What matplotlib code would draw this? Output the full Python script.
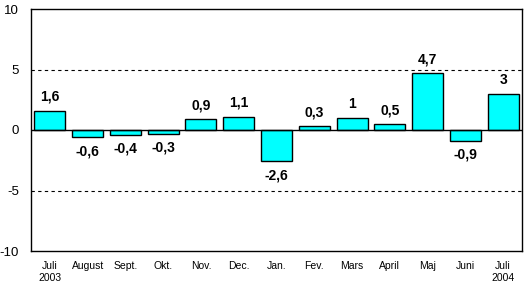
import matplotlib
matplotlib.use("Agg")
import matplotlib.pyplot as plt

categories = ["Juli\n2003", "August", "Sept.", "Okt.", "Nov.", "Dec.", "Jan.",
              "Fev.", "Mars", "April", "Maj", "Juni", "Juli\n2004"]
values = [1.6, -0.6, -0.4, -0.3, 0.9, 1.1, -2.6, 0.3, 1.0, 0.5, 4.7, -0.9, 3.0]
value_labels = ["1,6", "-0,6", "-0,4", "-0,3", "0,9", "1,1", "-2,6",
                "0,3", "1", "0,5", "4,7", "-0,9", "3"]
yticks = [-10, -5, 0, 5, 10]

plt.rcParams['font.family'] = ['Liberation Sans', 'DejaVu Sans']

fig = plt.figure(figsize=(5.24, 2.83), dpi=100)
ax = fig.add_axes([31/524, 1-251/283, (522-31)/524, (251-9)/283])

x = list(range(len(values)))
ax.bar(x, values, width=0.82, color="#00FFFF", edgecolor="black", linewidth=1, zorder=3)
ax.set_xlim(-0.5, len(values)-0.5)
ax.set_ylim(-10, 10)
ax.set_yticks(yticks)
ax.set_yticklabels([str(t) for t in yticks], fontsize=9.5)
ax.set_xticks(x)
ax.set_xticklabels(categories, fontsize=7.5, linespacing=1.25, va="top")
ax.tick_params(axis="y", length=0, pad=8.5)
ax.tick_params(axis="x", length=0, pad=7.5)

for yv in (5, -5):
    ax.axhline(yv, color="black", linestyle=(0, (3, 3)), linewidth=0.8, zorder=1)
ax.axhline(0, color="black", linewidth=1, zorder=4)

for xi, v, lab in zip(x, values, value_labels):
    if v >= 0:
        ax.annotate(lab, (xi, v), xytext=(0, 5), textcoords="offset points",
                    ha="center", va="bottom", fontsize=10, fontweight="bold")
    else:
        ax.annotate(lab, (xi, v), xytext=(0, -5), textcoords="offset points",
                    ha="center", va="top", fontsize=10, fontweight="bold")

for s in ax.spines.values():
    s.set_linewidth(1)
    s.set_color("black")

fig.savefig("out.png", dpi=100)
